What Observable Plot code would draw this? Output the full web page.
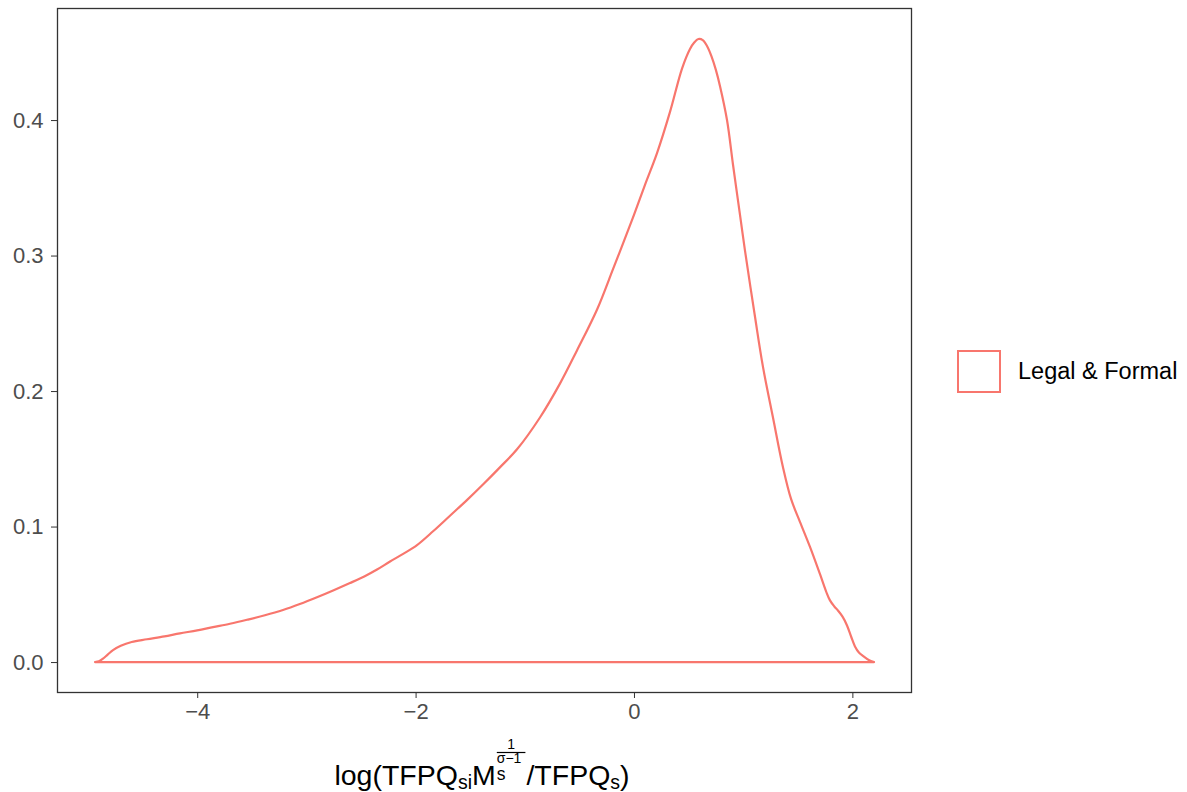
<!DOCTYPE html>
<html>
<head>
<meta charset="utf-8">
<script src="https://cdn.jsdelivr.net/npm/d3@7"></script>
<script src="https://cdn.jsdelivr.net/npm/@observablehq/plot@0.6"></script>
<style>
  body { margin: 0; background: #fff; font-family: "Liberation Sans", Arial, sans-serif; }
  #wrap { position: relative; width: 1187px; height: 792px; }
  #legend { position: absolute; left: 957px; top: 350px; display: flex; align-items: center; }
  #legend .key { width: 44px; height: 43px; border: 2px solid #F8766D; box-sizing: border-box; background: #fff; }
  #legend .lab { margin-left: 17px; font-size: 23.5px; color: #000; }
</style>
</head>
<body>
<div id="wrap"></div>
<script>
// Density estimate of log(TFPQ_si M_s^(1/(sigma-1)) / TFPQ_s), group "Legal & Formal"
const seriesName = "Legal & Formal";
const xVals = [-4.936, -4.90, -4.863, -4.82, -4.771, -4.70, -4.60, -4.46, -4.30, -4.158,
               -4.00, -3.855, -3.70, -3.544, -3.38, -3.214, -3.06, -2.903, -2.75, -2.601,
               -2.47, -2.353, -2.234, -2.11, -1.987, -1.84, -1.685, -1.53, -1.383, -1.23,
               -1.071, -0.861, -0.678, -0.522, -0.339, -0.192, -0.10, 0.00, 0.10, 0.211,
               0.33, 0.44, 0.513, 0.55, 0.59, 0.63, 0.67, 0.71, 0.75, 0.788,
               0.852, 0.907, 0.971, 1.016, 1.108, 1.181, 1.273, 1.364, 1.44, 1.52,
               1.612, 1.703, 1.76, 1.795, 1.835, 1.868, 1.91, 1.951, 1.99, 2.024,
               2.06, 2.097, 2.15, 2.198];
const yVals = [0.0000, 0.0005, 0.0025, 0.0055, 0.0088, 0.0120, 0.0148, 0.0168, 0.0190, 0.0212,
               0.0234, 0.0258, 0.0283, 0.0312, 0.0345, 0.0384, 0.0428, 0.0478, 0.0530, 0.0583,
               0.0632, 0.0683, 0.0742, 0.0800, 0.0863, 0.0965, 0.1080, 0.1195, 0.1310, 0.1435,
               0.1570, 0.1805, 0.2055, 0.2300, 0.2600, 0.2900, 0.3090, 0.3300, 0.3520, 0.3756,
               0.4060, 0.4380, 0.4525, 0.4570, 0.4598, 0.4590, 0.4545, 0.4470, 0.4370, 0.4250,
               0.4000, 0.3670, 0.3300, 0.3040, 0.2550, 0.2180, 0.1805, 0.1440, 0.1200, 0.1035,
               0.0850, 0.0650, 0.0520, 0.0455, 0.0410, 0.0380, 0.0335, 0.0270, 0.0185, 0.0115,
               0.0070, 0.0045, 0.0015, 0.0000];
const xTicks = [-4, -2, 0, 2];
const yTicks = [0, 0.1, 0.2, 0.3, 0.4];
const lineColor = "#F8766D";

const data = xVals.map((x, i) => ({x, y: yVals[i], group: seriesName}));

const chart = Plot.plot({
  width: 1187,
  height: 792,
  marginLeft: 57,
  marginRight: 276,
  marginTop: 8,
  marginBottom: 100,
  style: {fontFamily: "'Liberation Sans', Arial, sans-serif", fontSize: "22px", background: "#fff"},
  x: {domain: [-5.284, 2.537]},
  y: {domain: [-0.0221, 0.4827]},
  marks: [
    Plot.areaY(data, {x: "x", y: "y", fill: "none", stroke: lineColor, strokeWidth: 2.2, curve: "catmull-rom"}),
    Plot.frame({stroke: "#333", strokeWidth: 1.3}),
    Plot.axisX({ticks: xTicks, tickFormat: d => d < 0 ? "\u2212" + Math.abs(d) : String(d),
                tickSize: 6, tickPadding: 5, stroke: "#333", fill: "#4d4d4d", label: null}),
    Plot.axisY({ticks: yTicks, tickFormat: d3.format(".1f"),
                tickSize: 6, tickPadding: 8, stroke: "#333", fill: "#4d4d4d", label: null})
  ]
});

const wrap = document.getElementById("wrap");
wrap.appendChild(chart);

// x-axis title with sub/superscripts drawn as SVG text pieces
const svg = d3.select(chart);
const g = svg.append("g")
  .attr("font-family", "'Liberation Sans', Arial, sans-serif")
  .attr("text-anchor", "start")
  .attr("fill", "#000");
const base = 785;
const big = 28.5, small = 19.5;
let cx = 0;
function piece(str, size, y) {
  const t = g.append("text").attr("x", cx).attr("y", y).attr("font-size", size)
    .attr("text-anchor", "start").text(str);
  const w = t.node().getComputedTextLength();
  return {t, w};
}
let p = piece("log(TFPQ", big, base); cx += p.w;
p = piece("si", small, base + 4); cx += p.w;
p = piece("M", big, base); cx += p.w + 1;
// stacked: fraction 1/(σ−1) above, subscript s below
const sx = cx;
const sub = piece("s", 17.5, base - 5);
const den = g.append("text").attr("x", sx).attr("y", 763).attr("font-size", 14)
  .attr("text-anchor", "start").text("σ−1");
const dw = den.node().getComputedTextLength() + 4;
g.append("text").attr("x", sx + dw / 2).attr("y", 749).attr("font-size", 14)
  .attr("text-anchor", "middle").text("1");
g.append("line").attr("x1", sx).attr("x2", sx + dw).attr("y1", 752.5).attr("y2", 752.5)
  .attr("stroke", "#000").attr("stroke-width", 1.2);
cx = sx + Math.max(dw, sub.w) + 1;
p = piece("/TFPQ", big, base); cx += p.w;
p = piece("s", small, base + 4); cx += p.w;
p = piece(")", big, base); cx += p.w;
g.attr("transform", `translate(${482 - cx / 2},0)`);

// legend
const legend = document.createElement("div");
legend.id = "legend";
legend.innerHTML = `<div class="key"></div><div class="lab">${seriesName}</div>`;
wrap.appendChild(legend);
</script>
</body>
</html>
